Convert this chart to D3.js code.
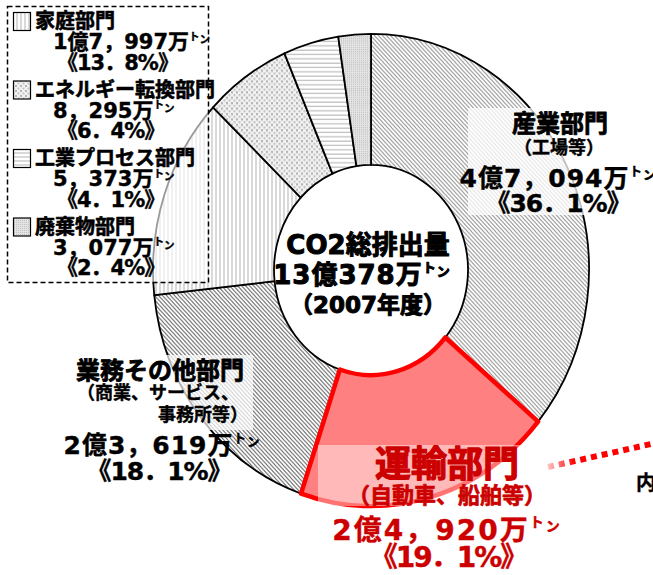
<!DOCTYPE html>
<html>
<head>
<meta charset="utf-8">
<script src="https://cdn.jsdelivr.net/npm/d3@7"></script>
<style>
  body { margin: 0; background: #fff; overflow: hidden; }
  svg { display: block; font-family: "DejaVu Sans", "Noto Sans CJK JP", sans-serif; font-weight: bold; }
  text { paint-order: stroke; stroke-linejoin: round; }
</style>
</head>
<body>
<svg id="chart" width="653" height="575"></svg>
<script>
// ── Data ──────────────────────────────────────────────────────────────────────
const SECTORS  = ["産業部門", "運輸部門", "業務その他部門", "家庭部門", "エネルギー転換部門", "工業プロセス部門", "廃棄物部門"];
const SHARES   = [36.1, 19.1, 18.1, 13.8, 6.4, 4.1, 2.4];
const AMOUNTS  = ["4億7，094万", "2億4，920万", "2億3，619万", "1億7，997万", "8，295万", "5，373万", "3，077万"];
const NOTES    = ["（工場等）", "（自動車、船舶等）", "（商業、サービス、", "事務所等）"];
const TOTAL    = ["CO2総排出量", "13億378万", "（2007年度）"];
const LEGEND_I = [3, 4, 5, 6];   // sectors listed in the dashed box

// ── Helpers ───────────────────────────────────────────────────────────────────
const pct = v => "《" + v.toFixed(1).replace(".", "．") + "%》";

function ton(t, size) {   // small raised ﾄﾝ
  t.append("tspan").attr("font-size", size * 0.5).attr("dy", -size * 0.3).text("ト");
  t.append("tspan").attr("font-size", size * 0.5).attr("dy", size * 0.16).text("ン");
}

function label(g, x, y, str, size, opts = {}) {
  const color = opts.color || "#000";
  const t = g.append("text")
    .attr("x", x).attr("y", y)
    .attr("dominant-baseline", "central")
    .attr("text-anchor", opts.anchor || "middle")
    .attr("font-size", size)
    .attr("fill", color)
    .attr("stroke", color).attr("stroke-width", opts.sw == null ? 0.4 : opts.sw)
    .attr("letter-spacing", opts.ls || 0)
    .text(str);
  if (opts.ton) ton(t, size);
  return t;
}

// ── SVG ───────────────────────────────────────────────────────────────────────
const svg  = d3.select("#chart");
const defs = svg.append("defs");

function linePattern(id, size, d, color, w) {
  const p = defs.append("pattern").attr("id", id)
    .attr("patternUnits", "userSpaceOnUse").attr("width", size).attr("height", size);
  p.append("rect").attr("width", size).attr("height", size).attr("fill", "#fff");
  p.append("path").attr("d", d).attr("stroke", color).attr("stroke-width", w).attr("fill", "none");
}
linePattern("p-ind",  4, "M-1,3 l2,2 M0,0 l4,4 M3,-1 l2,2", "#9a9a9a", 1);
linePattern("p-bus",  4, "M-1,3 l2,2 M0,0 l4,4 M3,-1 l2,2", "#6e6e6e", 1);
linePattern("p-home", 4, "M1,0 v4", "#b4b4b4", 1);
linePattern("p-proc", 4, "M0,1 h4", "#b4b4b4", 1);
(() => {
  const p = defs.append("pattern").attr("id", "p-ene")
    .attr("patternUnits", "userSpaceOnUse").attr("width", 5).attr("height", 5);
  p.append("rect").attr("width", 5).attr("height", 5).attr("fill", "#f2f2f2");
  p.append("rect").attr("x", 0).attr("y", 0).attr("width", 2).attr("height", 2).attr("fill", "#b4b4b4");
  p.append("rect").attr("x", 2.5).attr("y", 2.5).attr("width", 2).attr("height", 2).attr("fill", "#c4c4c4");
})();
(() => {
  const p = defs.append("pattern").attr("id", "p-waste")
    .attr("patternUnits", "userSpaceOnUse").attr("width", 2).attr("height", 2);
  p.append("rect").attr("width", 2).attr("height", 2).attr("fill", "#e4e4e4");
  p.append("rect").attr("width", 1).attr("height", 1).attr("fill", "#c0c0c0");
})();
const grad = defs.append("linearGradient").attr("id", "g-dots")
  .attr("gradientUnits", "userSpaceOnUse").attr("x1", 548).attr("x2", 653).attr("y1", 0).attr("y2", 0);
grad.append("stop").attr("offset", 0).attr("stop-color", "#ffc4c4");
grad.append("stop").attr("offset", 0.25).attr("stop-color", "#ff0000");
grad.append("stop").attr("offset", 1).attr("stop-color", "#ff0000");

const FILLS = ["url(#p-ind)", "#ff8080", "url(#p-bus)", "url(#p-home)", "url(#p-ene)", "url(#p-proc)", "url(#p-waste)"];

// ── Donut ─────────────────────────────────────────────────────────────────────
const pie = d3.pie().sort(null).value(d => d)(SHARES);
const arc = d3.arc().innerRadius(97).outerRadius(218);

const donut = svg.append("g").attr("transform", "translate(371,270) scale(1,1.083)");
donut.selectAll("path.slice")
  .data(pie.filter((d, i) => i !== 1))
  .join("path")
  .attr("class", "slice")
  .attr("d", arc)
  .attr("fill", d => FILLS[d.index])
  .attr("stroke", "#000").attr("stroke-width", 1.8)
  .attr("stroke-linejoin", "round")
  .attr("vector-effect", "non-scaling-stroke");
donut.append("path")           // 運輸部門, highlighted
  .attr("d", arc(pie[1]))
  .attr("fill", FILLS[1])
  .attr("stroke", "#ff0000").attr("stroke-width", 4.5)
  .attr("stroke-linejoin", "round")
  .attr("vector-effect", "non-scaling-stroke");

// ── Dotted pointer ───────────────────────────────────────────────────────────
svg.append("line")
  .attr("x1", 548).attr("y1", 467).attr("x2", 660).attr("y2", 442)
  .attr("stroke", "url(#g-dots)").attr("stroke-width", 6)
  .attr("stroke-dasharray", "6,5");
label(svg, 636, 483, "内訳", 20, { anchor: "start" });

// ── Semi-transparent label panels ────────────────────────────────────────────
svg.append("rect").attr("x", 468).attr("y", 108).attr("width", 190).attr("height", 107)
  .attr("fill", "#fff").attr("fill-opacity", 0.75);
svg.append("rect").attr("x", 73).attr("y", 355).attr("width", 180).attr("height", 75)
  .attr("fill", "#fff").attr("fill-opacity", 0.7);
svg.append("rect").attr("x", 318).attr("y", 445).attr("width", 229).attr("height", 61)
  .attr("fill", "#fff").attr("fill-opacity", 0.45);

// ── Centre ───────────────────────────────────────────────────────────────────
label(svg, 368, 245, TOTAL[0], 26, { sw: 1 });
label(svg, 362, 275, TOTAL[1], 26, { sw: 1, ton: true, ls: 1 });
label(svg, 368, 305, TOTAL[2], 23, { sw: 1 });

// ── Big sector labels ────────────────────────────────────────────────────────
const lab = svg.append("g");
// 産業部門
label(lab, 560, 124, SECTORS[0], 24, { sw: 0.8 });
label(lab, 559, 147, NOTES[0], 18);
label(lab, 558, 178, AMOUNTS[0], 25, { ton: true, ls: 1 });
label(lab, 558, 203, pct(SHARES[0]), 25, { ls: -1 });
// 業務その他部門
label(lab, 160, 371, SECTORS[2], 24, { sw: 0.8 });
label(lab, 77, 392, NOTES[2], 18, { anchor: "start" });
label(lab, 248, 414, NOTES[3], 18, { anchor: "end" });
label(lab, 162, 445, AMOUNTS[2], 25, { ton: true, ls: 1 });
label(lab, 159, 471, pct(SHARES[2]), 25, { ls: -1 });
// 運輸部門
const RED = "#cc0000";
label(lab, 447, 464, SECTORS[1], 36, { color: RED, sw: 1.2 });
label(lab, 447, 495, NOTES[1], 22, { color: RED, sw: 0.7 });
label(lab, 447, 530, AMOUNTS[1], 28, { color: RED, ton: true, ls: 2 });
label(lab, 448, 557, pct(SHARES[1]), 28, { color: RED, ls: -2 });

// ── Legend box ───────────────────────────────────────────────────────────────
svg.append("rect").attr("x", 7.5).attr("y", 6.5).attr("width", 201).attr("height", 276)
  .attr("fill", "#fff").attr("fill-opacity", 0.6)
  .attr("stroke", "#000").attr("stroke-width", 1.5).attr("stroke-dasharray", "5,3");

const leg = svg.append("g");
LEGEND_I.forEach((k, i) => {
  const y0 = 21 + i * 68.5;
  leg.append("rect").attr("x", 13.5).attr("y", y0 - 8.5).attr("width", 17).attr("height", 18)
    .attr("fill", FILLS[k]).attr("stroke", "#000").attr("stroke-width", 1.2);
  label(leg, 35, y0, SECTORS[k], 20, { anchor: "start", sw: 0.6 });
  label(leg, 53, y0 + 21, AMOUNTS[k], 21, { anchor: "start", ton: true });
  label(leg, 57, y0 + 41.5, pct(SHARES[k]), 21, { anchor: "start", ls: -1 });
});
</script>
</body>
</html>
